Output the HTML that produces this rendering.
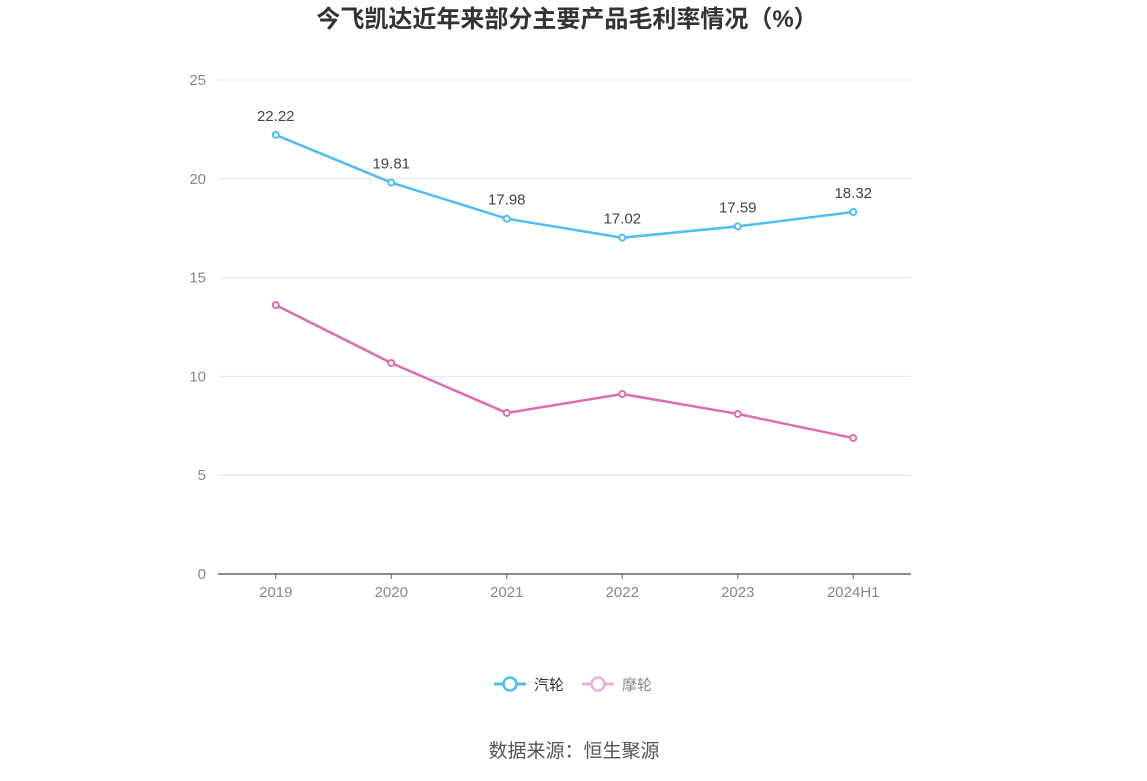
<!DOCTYPE html>
<html><head><meta charset="utf-8">
<style>
html,body{margin:0;padding:0;background:#fff;}
body{width:1147px;height:776px;overflow:hidden;font-family:"Liberation Sans","Noto Sans CJK SC",sans-serif;}
</style></head>
<body>
<svg width="1147" height="776" xmlns="http://www.w3.org/2000/svg">
<text x="567" y="27" text-anchor="middle" font-size="24" font-weight="bold" fill="#333" font-family="Liberation Sans,Noto Sans CJK SC,sans-serif">今飞凯达近年来部分主要产品毛利率情况（%）</text>
<g id="grid"></g>
<g id="series"></g>
<g>
<g>
<line x1="494" y1="684" x2="526" y2="684" stroke="#4fbdf5" stroke-width="3"/>
<circle cx="510" cy="684" r="6.5" fill="#fff" stroke="#4fbdf5" stroke-width="2.5"/>
<text x="534" y="690" font-size="15" fill="#333" font-family="Liberation Sans,Noto Sans CJK SC,sans-serif">汽轮</text>
</g>
<g>
<line x1="582" y1="684" x2="614" y2="684" stroke="#eab0d6" stroke-width="3"/>
<circle cx="598" cy="684" r="6.5" fill="#fff" stroke="#eab0d6" stroke-width="2.5"/>
<text x="622" y="690" font-size="15" fill="#888" font-family="Liberation Sans,Noto Sans CJK SC,sans-serif">摩轮</text>
</g>
</g>
<text x="574" y="757" text-anchor="middle" font-size="19" fill="#555" font-family="Liberation Sans,Noto Sans CJK SC,sans-serif">数据来源：恒生聚源</text>
</svg>
<script>
const categories=["2019","2020","2021","2022","2023","2024H1"];
const qilun=[22.22,19.81,17.98,17.02,17.59,18.32];
const molun=[13.61,10.68,8.15,9.11,8.10,6.88];
const yTicks=[0,5,10,15,20,25];
const NS="http://www.w3.org/2000/svg";
const x0=218,x1=911,yB=574,yT=80,yMax=25;
const step=(x1-x0)/categories.length;
function xs(i){return x0+step*(i+0.5);}
function ys(v){return yB-(v/yMax)*(yB-yT);}
function mk(tag,attrs,parent){const e=document.createElementNS(NS,tag);for(const k in attrs)e.setAttribute(k,attrs[k]);parent.appendChild(e);return e;}
const grid=document.getElementById('grid');
yTicks.forEach(t=>{
 if(t>0){const l=mk('line',{x1:x0,x2:x1,y1:ys(t),y2:ys(t),stroke:'#e3e6ef','stroke-width':1},grid);
 
 }
 const tx=mk('text',{x:206,y:ys(t)+5,'text-anchor':'end','font-size':15,fill:'#888'},grid);
 tx.textContent=t;
 
 
});
const ax=mk('line',{x1:x0,x2:x1,y1:yB,y2:yB,stroke:'#666','stroke-width':1.5},grid);


categories.forEach((c,i)=>{
 const tk=mk('line',{x1:xs(i),x2:xs(i),y1:yB,y2:yB+5,stroke:'#666'},grid);
 
 
 const tx=mk('text',{x:xs(i),y:597,'text-anchor':'middle','font-size':15,fill:'#888'},grid);
 tx.textContent=c;
 
 
});
const sg=document.getElementById('series');
function drawSeries(vals,color,name,labels){
 const p=mk('polyline',{points:vals.map((v,i)=>xs(i)+','+ys(v)).join(' '),fill:'none',stroke:color,'stroke-width':2.5},sg);
 
 
 vals.forEach((v,i)=>{
  const c=mk('circle',{cx:xs(i),cy:ys(v),r:3,fill:'#fff',stroke:color,'stroke-width':2},sg);
  
  
  if(labels){const t=mk('text',{x:xs(i),y:ys(v)-14,'text-anchor':'middle','font-size':15,fill:'#444'},sg);
  t.textContent=v.toFixed(2);
  
  }
 });
}
drawSeries(molun,'#dd6bb0','molun',false);
drawSeries(qilun,'#4fbdf5','qilun',true);
</script>
</body></html>
